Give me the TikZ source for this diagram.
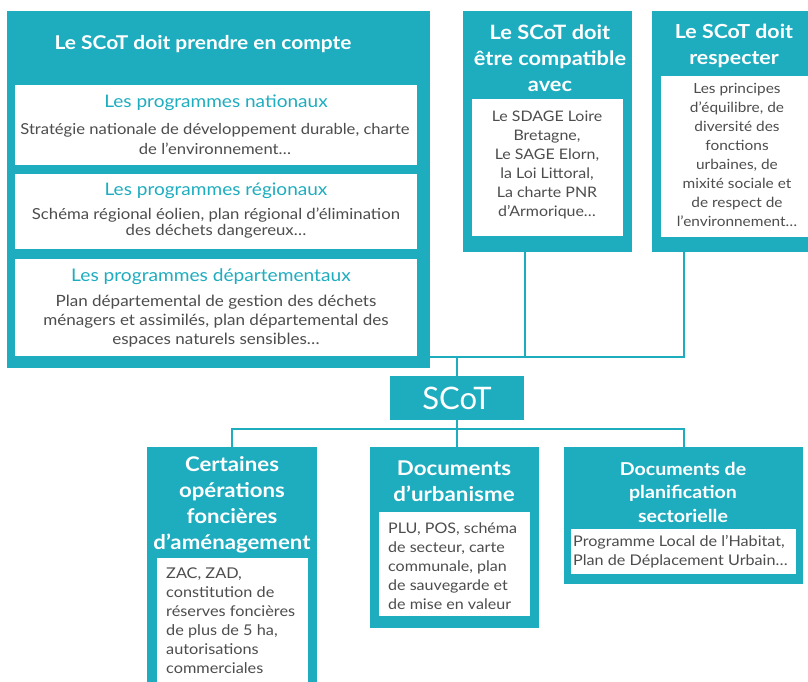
\documentclass[tikz,border=0pt]{standalone}
\usepackage{fontspec}
\setmainfont{Lato}[FakeStretch=1.1]
\newfontfamily\plainlato{Lato}
\definecolor{scot}{HTML}{1EADBF}
\definecolor{txt}{HTML}{4D4D4D}
\begin{document}
\begin{tikzpicture}[x=1pt,y=-1pt,
 panel/.style={fill=scot, inner sep=0pt, outer sep=0pt, anchor=north west},
 card/.style={fill=white, inner sep=0pt, outer sep=0pt, anchor=north west},
 ttl/.style={text=white, font=\bfseries\fontsize{19}{26}\selectfont, align=center, inner sep=0pt},
 sub/.style={text=scot, font=\fontsize{17.3}{20}\selectfont, align=center, inner sep=0pt},
 body/.style={text=txt, font=\fontsize{14.6}{19}\selectfont, align=center, inner sep=0pt},
 bodyl/.style={body, align=left, anchor=west},
 link/.style={draw=scot, line width=2pt}]
\useasboundingbox (0,0) rectangle (808,682);
% top panels
\node[panel, minimum width=423pt, minimum height=357pt] (pc) at (7,11) {};
\node[card, minimum width=402pt, minimum height=80pt] (n1) at (15,85) {};
\node[card, minimum width=402pt, minimum height=75pt] (n2) at (15,174) {};
\node[card, minimum width=402pt, minimum height=97pt] (n3) at (15,259) {};
\node[panel, minimum width=169pt, minimum height=241pt] (pm) at (463,11) {};
\node[card, minimum width=151pt, minimum height=137pt] (cm) at (472,99) {};
\node[panel, minimum width=156pt, minimum height=241pt] (pr) at (652,11) {};
\node[card, minimum width=147pt, minimum height=161pt] (cr) at (661,76) {};
% centre
\node[panel, minimum width=134pt, minimum height=44pt, text=white, font=\plainlato\fontsize{31}{31}\selectfont] (sc) at (390,376) {SCoT};
% bottom panels
\node[panel, minimum width=170pt, minimum height=235pt] (pa) at (147,447) {};
\node[card, minimum width=151pt, minimum height=124pt] (ca) at (157,558) {};
\node[panel, minimum width=169pt, minimum height=181pt] (pb) at (370,447) {};
\node[card, minimum width=151pt, minimum height=104pt] (cb) at (379,512) {};
\node[panel, minimum width=239pt, minimum height=137pt] (pd) at (564,447) {};
\node[card, minimum width=225pt, minimum height=45pt] (cd) at (571,529) {};
% connectors
\coordinate (jl) at (430,357);
\coordinate (jm) at (525,357);
\coordinate (jc) at (457,357);
\coordinate (jr) at (684,357);
\coordinate (pmo) at (525,252);
\coordinate (pro) at (684,252);
\coordinate (bc) at (457,429);
\coordinate (bl) at (232,429);
\coordinate (br) at (684,429);
\coordinate (pai) at (232,447);
\coordinate (pbi) at (457,447);
\coordinate (pdi) at (684,447);
\draw[link] (jl) -- (jr) -- (pro);
\draw[link] (pmo) -- (jm);
\draw[link] (jc) -- (sc.north);
\draw[link] (sc.south) -- (bc);
\draw[link] (pai) -- (bl) -- (br) -- (pdi);
\draw[link] (bc) -- (pbi);
% texts
\node[ttl, font=\bfseries\fontsize{19}{26}\selectfont] (t1) at (203,44.5) {Le SCoT doit prendre en compte};
\node[sub] (s1) at (216,102.5) {Les programmes nationaux};
\node[body, font=\fontsize{15.1}{19.5}\selectfont] (b1) at (215,139) {Stratégie nationale de développement durable, charte\\de l’environnement…};
\node[sub] (s2) at (216,190.5) {Les programmes régionaux};
\node[body, font=\fontsize{15.2}{16}\selectfont] (b2) at (216,223.5) {Schéma régional éolien, plan régional d’élimination\\des déchets dangereux…};
\node[sub, font=\fontsize{17.4}{20}\selectfont] (s3) at (211,276.5) {Les programmes départementaux};
\node[body, font=\fontsize{15.5}{19}\selectfont] (b3) at (216,321.5) {Plan départemental de gestion des déchets\\ménagers et assimilés, plan départemental des\\espaces naturels sensibles…};
\node[ttl, font=\bfseries\fontsize{19.8}{26}\selectfont] (t2) at (550,58.5) {Le SCoT doit\\être compatible\\avec};
\node[body, font=\fontsize{14.5}{19}\selectfont] (b4) at (547,165) {Le SDAGE Loire\\Bretagne,\\Le SAGE Elorn,\\la Loi Littoral,\\La charte PNR\\d’Armorique…};
\node[ttl, font=\bfseries\fontsize{19.4}{26}\selectfont] (t3) at (734,46) {Le SCoT doit\\respecter};
\node[body, font=\fontsize{14}{19}\selectfont] (b5) at (737,154.5) {Les principes\\d’équilibre, de\\diversité des\\fonctions\\urbaines, de\\mixité sociale et\\de respect de\\l’environnement…};
\node[ttl, font=\bfseries\fontsize{20.2}{26}\selectfont] (t4) at (232,505) {Certaines\\opérations\\foncières\\d’aménagement};
\node[bodyl, font=\fontsize{14.8}{19}\selectfont] (b6) at (166,620.5) {ZAC, ZAD,\\constitution de\\réserves foncières\\de plus de 5 ha,\\autorisations\\commerciales};
\node[ttl, font=\bfseries\fontsize{20.3}{26}\selectfont] (t5) at (454,481.5) {Documents\\d’urbanisme};
\node[bodyl, font=\fontsize{14.6}{19}\selectfont] (b7) at (388,566.5) {PLU, POS, schéma\\de secteur, carte\\communale, plan\\de sauvegarde et\\de mise en valeur};
\node[ttl, font=\bfseries\fontsize{17.8}{23.5}\selectfont] (t6) at (683,492) {Documents de\\planification\\sectorielle};
\node[bodyl, font=\fontsize{14.7}{19}\selectfont] (b8) at (573,551.5) {Programme Local de l’Habitat,\\Plan de Déplacement Urbain…};
\end{tikzpicture}
\end{document}
